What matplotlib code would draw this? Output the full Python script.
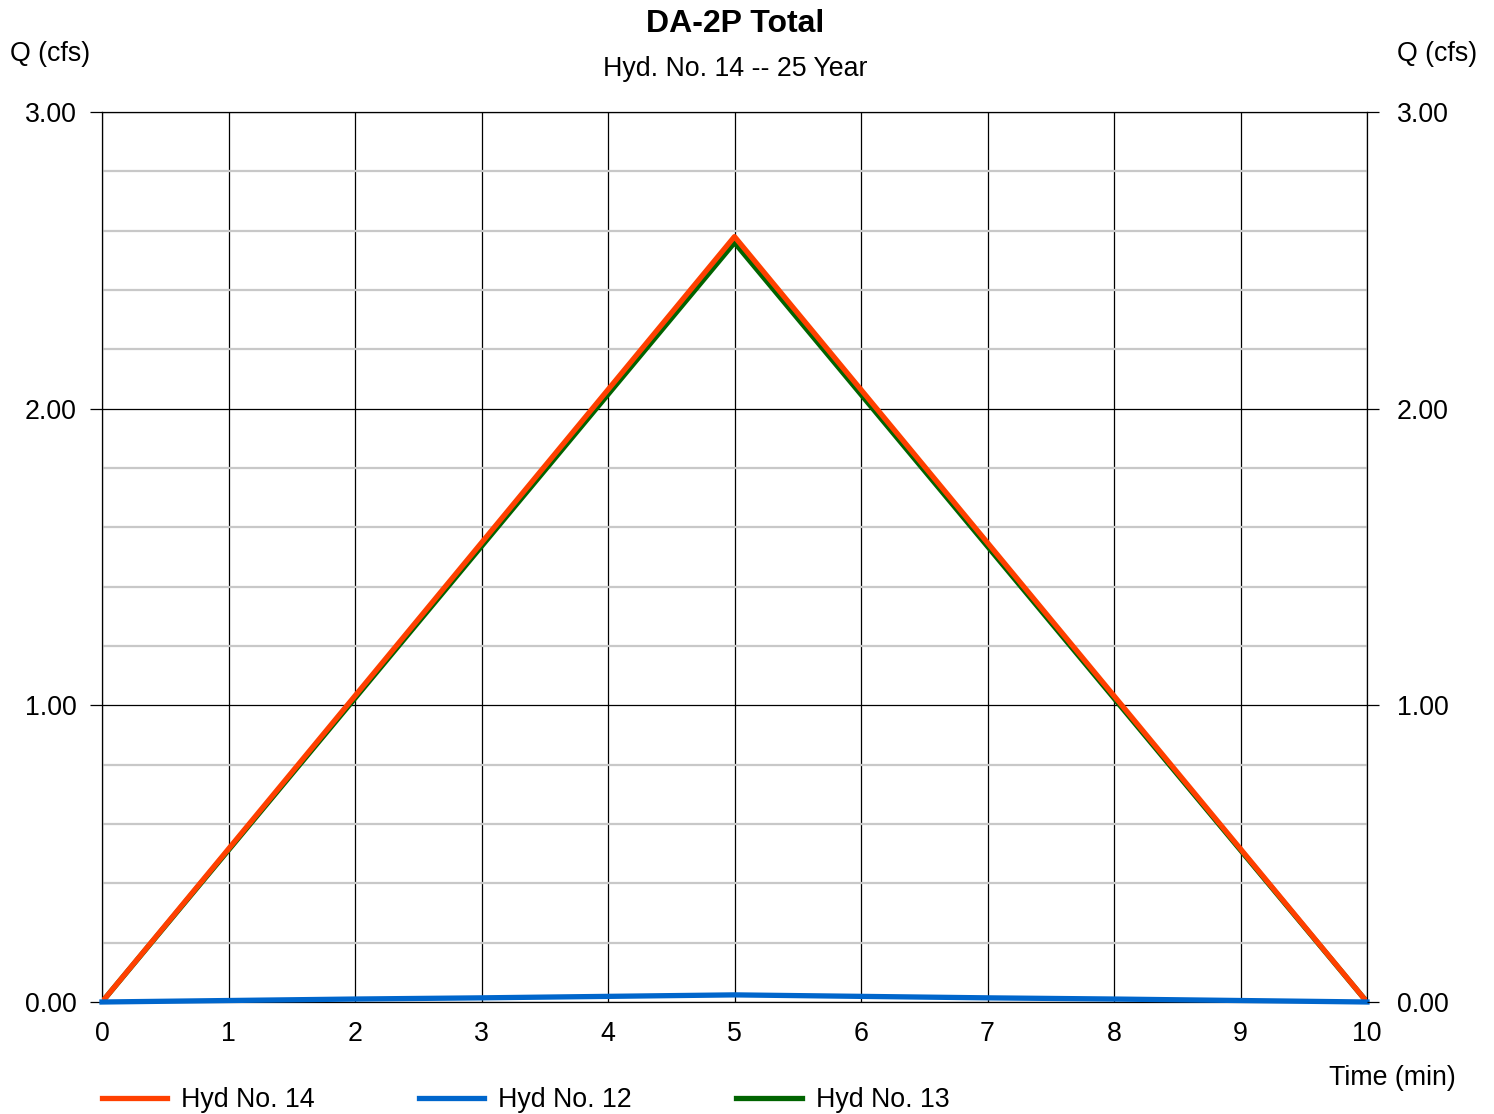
import numpy as np
import matplotlib.pyplot as plt
from matplotlib.ticker import MultipleLocator

plt.rcParams['font.family'] = ['Liberation Sans', 'DejaVu Sans']

# data
time_min = [0, 1, 2, 3, 4, 5, 6, 7, 8, 9, 10]
hyd14 = [0.0, 0.516, 1.032, 1.548, 2.064, 2.58, 2.064, 1.548, 1.032, 0.516, 0.0]
hyd12 = [0.0, 0.005, 0.010, 0.014, 0.019, 0.024, 0.019, 0.014, 0.010, 0.005, 0.0]
hyd13 = [0.0, 0.512, 1.024, 1.536, 2.048, 2.56, 2.048, 1.536, 1.024, 0.512, 0.0]

FS = 19.3
W, H = 1494, 1114
fig = plt.figure(figsize=(W / 100, H / 100), dpi=100)
ax = fig.add_axes([102 / W, (H - 1002) / H, 1265 / W, 890 / H])

ax.set_xlim(0, 10)
ax.set_ylim(0, 3)
ax.xaxis.set_major_locator(MultipleLocator(1))
ax.yaxis.set_major_locator(MultipleLocator(1))
ax.yaxis.set_minor_locator(MultipleLocator(0.2))

ax.grid(which='minor', axis='y', color='#c8c8c8', linewidth=1.6)
ax.grid(which='major', axis='both', color='black', linewidth=0.9)
ax.set_axisbelow(True)

ax.plot(time_min, hyd13, color='#006400', linewidth=3.8, label='Hyd No. 13', zorder=3)
ax.plot(time_min, hyd14, color='#ff4000', linewidth=3.8, label='Hyd No. 14', zorder=4)
ax.plot(time_min, hyd12, color='#0066cc', linewidth=3.8, label='Hyd No. 12', zorder=5,
        clip_on=False)

for s in ax.spines.values():
    s.set_linewidth(0.9)

ax.set_yticks([0, 1, 2, 3])
ax.set_yticklabels(['0.00', '1.00', '2.00', '3.00'])
ax.tick_params(axis='y', which='major', direction='out', length=8.5, width=0.9,
               labelsize=FS, pad=9.5)
ax.tick_params(axis='y', which='minor', length=0)
ax.tick_params(axis='x', length=0, labelsize=FS, pad=14)

ax2 = ax.twinx()
ax2.set_ylim(0, 3)
ax2.set_yticks([0, 1, 2, 3])
ax2.set_yticklabels(['0.00', '1.00', '2.00', '3.00'])
ax2.tick_params(axis='y', direction='out', length=8.5, width=0.9, labelsize=FS, pad=13)
for s in ax2.spines.values():
    s.set_visible(False)

fig.text(735 / W, 1 - 24 / H, 'DA-2P Total', ha='center', va='center',
         fontsize=23, fontweight='bold')
fig.text(735 / W, 1 - 69 / H, 'Hyd. No. 14 -- 25 Year', ha='center', va='center',
         fontsize=FS)
fig.text(50 / W, 1 - 54 / H, 'Q (cfs)', ha='center', va='center', fontsize=FS)
fig.text(1437 / W, 1 - 54 / H, 'Q (cfs)', ha='center', va='center', fontsize=FS)
fig.text(1392 / W, 1 - 1078 / H, 'Time (min)', ha='center', va='center', fontsize=FS)

h, l = ax.get_legend_handles_labels()
order = [1, 2, 0]
leg = fig.legend([h[i] for i in order], [l[i] for i in order], ncol=3, frameon=False,
                 loc='center left', bbox_to_anchor=(102 / W, 1 - 1100 / H),
                 fontsize=FS, handlelength=2.43, handletextpad=0.52,
                 columnspacing=3.9, borderaxespad=0, borderpad=0)

fig.savefig('out.png', dpi=100)
